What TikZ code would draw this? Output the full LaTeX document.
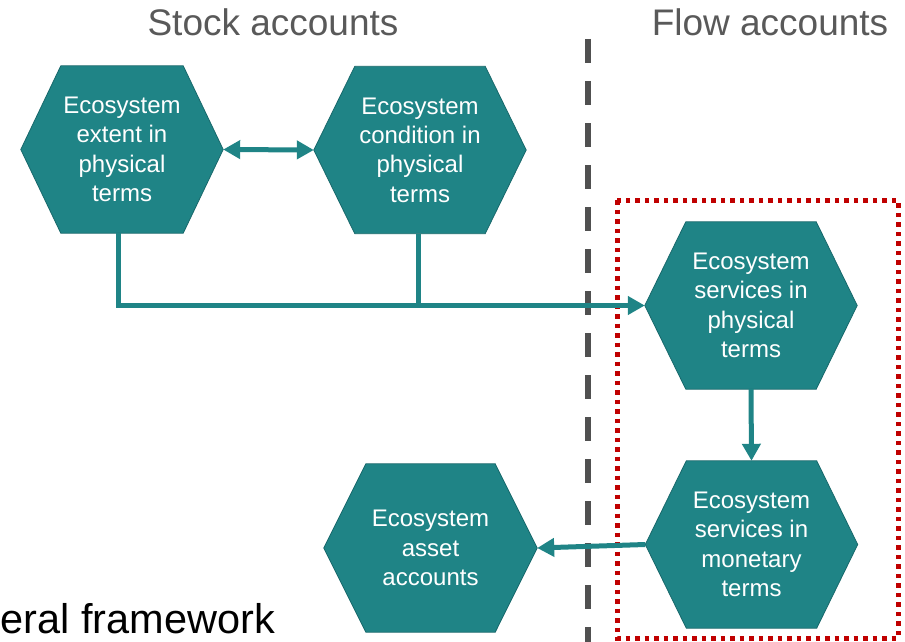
\documentclass[tikz,border=0pt]{standalone}
\usepackage{fontspec}
\setmainfont{Liberation Sans}
\usetikzlibrary{arrows.meta,calc}
\pgfdeclarelayer{background}
\pgfsetlayers{background,main}

\definecolor{hexteal}{RGB}{31,132,134}
\definecolor{hexedge}{RGB}{24,104,107}
\definecolor{connteal}{RGB}{31,132,134}
\definecolor{divider}{RGB}{80,80,80}
\definecolor{boxred}{RGB}{192,0,0}
\definecolor{titlegray}{RGB}{89,89,89}

\tikzset{
  hexnode/.style={draw=none, inner sep=0pt, minimum height=167pt, minimum width=212pt,
    text=white, align=center,
    font=\fontsize{24}{29.3}\selectfont},
  hexfill/.style={fill=hexteal, draw=hexedge, line width=0.8pt},
  conn/.style={draw=connteal, line width=5pt},
  tip/.style={-{Triangle[width=18pt,length=17pt]}},
  twotips/.style={{Triangle[width=18pt,length=17pt]}-{Triangle[width=18pt,length=17pt]}},
  heading/.style={text=titlegray, font=\fontsize{37}{44}\selectfont, anchor=base},
}

\begin{document}
\begin{tikzpicture}[x=1pt, y=-1pt]
  \useasboundingbox (0,0) rectangle (905,642);

  % column headings
  \node[heading] (stock) at (273,36) {Stock accounts};
  \node[heading] (flow) at (770,36) {Flow accounts};
  \node[anchor=base west, inner xsep=0pt, font=\fontsize{41.5}{50}\selectfont] (general) at (0.5,633) {eral framework};

  % separator between stock and flow accounts
  \coordinate (divtop) at (588,39);
  \coordinate (divbot) at (588,650);
  \draw[divider, line width=5.5pt, dash pattern=on 24pt off 18pt] (divtop) -- (divbot);

  % highlighted service accounts
  \coordinate (redtl) at (617,200);
  \coordinate (redbr) at (898,638);
  \draw[boxred, line width=5pt, dash pattern=on 4.5pt off 5pt] (redtl) rectangle (redbr);

  % account nodes
  \node[hexnode, minimum width=202pt] (h1) at (122,149.5) {Ecosystem\\extent in\\physical\\terms};
  \node[hexnode] (h2) at (420,150) {Ecosystem\\condition in\\physical\\terms};
  \node[hexnode] (h3) at (751,305.5) {Ecosystem\\services in\\physical\\terms};
  \node[hexnode] (h4) at (751.5,544.5) {Ecosystem\\services in\\monetary\\terms};
  \node[hexnode, minimum width=213pt, minimum height=168pt] (h5) at (430.5,548) {Ecosystem\\asset\\accounts};

  % hexagon outlines behind the labels
  \begin{pgfonlayer}{background}
    \foreach \n/\d in {h1/40, h2/41, h3/41, h4/41, h5/42} {
      \path[hexfill] (\n.west) -- ([xshift=\d pt]\n.north west) -- ([xshift=-\d pt]\n.north east)
        -- (\n.east) -- ([xshift=-\d pt]\n.south east) -- ([xshift=\d pt]\n.south west) -- cycle;
    }
  \end{pgfonlayer}

  % connectors
  \draw[conn, twotips] (h1.east) -- (h2.west);
  \draw[conn, tip] ([xshift=-4pt]h1.south) |- (h3.west);
  \draw[conn] ([xshift=-2pt]h2.south) -- ([xshift=-2pt]h2.south |- h3.west);
  \draw[conn, tip] (h3.south) -- (h4.north);
  \draw[conn, tip] (h4.west) -- (h5.east);
\end{tikzpicture}
\end{document}
